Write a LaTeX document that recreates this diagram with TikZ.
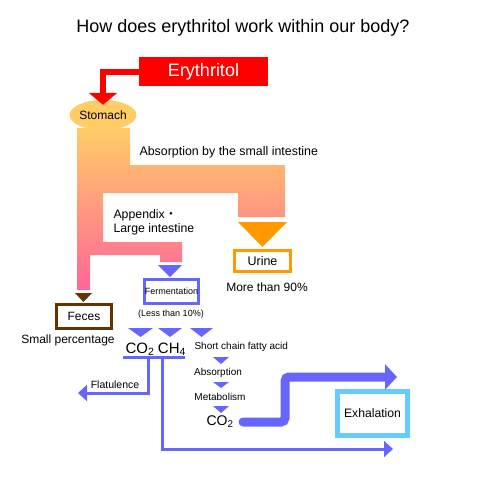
\documentclass[tikz,border=0pt]{standalone}
\usepackage{fontspec}
\setmainfont{Liberation Sans}
\newfontfamily\cjk{Noto Sans CJK JP}
\usepackage{tikz}
\usetikzlibrary{arrows.meta,shapes.geometric}

\definecolor{flowblue}{HTML}{6666FF}
\definecolor{exhblue}{HTML}{66CCFF}
\definecolor{urineorange}{HTML}{FF9900}
\definecolor{fecesbrown}{HTML}{663300}
\definecolor{stomachcol}{HTML}{FFCC66}
\definecolor{bandtop}{HTML}{FFCC66}
\definecolor{bandbot}{HTML}{FF6699}

\newcommand{\fsz}[1]{\fontsize{#1}{#1}\selectfont}

\begin{document}
\begin{tikzpicture}[x=1pt,y=-1pt,
  box/.style={draw=#1,line width=3pt,fill=white,inner sep=0pt},
  flowline/.style={flowblue,line width=3pt},
  tip/.style={-{Triangle[width=16pt,length=9pt]}}]
\useasboundingbox (0,0) rectangle (487,498);
\node (title) at (243,28) {\fsz{18}How does erythritol work within our body?};
% the gut
\shade[top color=bandtop,bottom color=bandbot] (77,128) -- (130,128) -- (130,165) -- (285,165)
  -- (285,217) -- (238,217) -- (238,193) -- (103,193) -- (103,242) -- (182,242) -- (182,262)
  -- (160,262) -- (160,255) -- (90,255) -- (90,290) -- (77,290) -- cycle;
\node[ellipse,fill=stomachcol,minimum width=60pt,minimum height=30pt,inner sep=0pt] (stomach) at (103,115) {\fsz{12}Stomach};
\node[fill=red,text=white,minimum width=129pt,minimum height=29pt] (ery) at (203.5,71.5) {\fsz{18}Erythritol};
\draw[red,line width=6pt,-{Triangle[width=28pt,length=12pt]}] (ery.west) -| ([yshift=-5pt]stomach.north);
\node[anchor=west] (absorb) at (136,152) {\fsz{12.4}Absorption by the small intestine};
\node[anchor=west,align=left,font=\fontsize{12.3}{14}\selectfont] (appendix) at (110,222) {Appendix{\cjk ・}\\Large intestine};
% urine
\fill[urineorange] (238,222) -- (287,222) -- (262.5,247) -- cycle;
\node[box=urineorange,minimum width=56pt,minimum height=21pt] (urine) at (262.5,261) {\fsz{12.5}Urine};
\node (urinepct) at (267,287) {\fsz{12}More than 90\%};
% feces
\fill[fecesbrown] (75,293) -- (92,293) -- (83.5,302) -- cycle;
\node[box=fecesbrown,minimum width=55pt,minimum height=24pt] (feces) at (84,316.5) {\fsz{12}Feces};
\node (fecespct) at (68,340) {\fsz{12}Small percentage};
% fermentation
\fill[flowblue] (158,265) -- (182,265) -- (170,277) -- cycle;
\node[box=flowblue,minimum width=54pt,minimum height=24pt] (ferm) at (171.5,291.5) {\fsz{9}Fermentation};
\node (fermpct) at (171,314) {\fsz{9}(Less than 10\%)};
\fill[flowblue] (128,328) -- (153,328) -- (140.5,337) -- cycle;
\fill[flowblue] (158,328) -- (182,328) -- (170,337) -- cycle;
\fill[flowblue] (190,328) -- (213,328) -- (201.5,337) -- cycle;
\node (co2a) at (140,349) {\fsz{15}CO\textsubscript{2}};
\node (ch4) at (172,349) {\fsz{15}CH\textsubscript{4}};
\node[anchor=west] (scfa) at (191,347) {\fsz{10}Short chain fatty acid};
% gases
\coordinate (barL) at (123,357);
\coordinate (barR) at (185,357);
\coordinate (split1) at (148,357);
\coordinate (split2) at (162,357);
\coordinate (flatend) at (78,393);
\coordinate (ch4end) at (393,449);
\draw[flowline] (barL) -- (barR);
\draw[flowline,tip] (split1) |- (flatend);
\draw[flowline,tip] (split2) |- (ch4end);
\node (flat) at (115,385) {\fsz{10.5}Flatulence};
% fatty acid route
\fill[flowblue] (213,357) -- (229,357) -- (221,364) -- cycle;
\node (absorb2) at (218,373) {\fsz{10}Absorption};
\fill[flowblue] (213,382) -- (229,382) -- (221,388) -- cycle;
\node (metab) at (220,397) {\fsz{10}Metabolism};
\fill[flowblue] (213,406) -- (229,406) -- (221,413) -- cycle;
\node (co2b) at (220,422) {\fsz{14}CO\textsubscript{2}};
\node[box=exhblue,line width=5pt,minimum width=70pt,minimum height=44pt] (exh) at (372.5,413.5) {\fsz{12.2}Exhalation};
\coordinate (exhend) at (397,377);
\draw[flowblue,line width=9pt,line cap=round,rounded corners=4pt,-{Triangle[width=25pt,length=12pt]}]
  ([xshift=6pt]co2b.east) -| (285,377) -- (exhend);
\end{tikzpicture}
\end{document}
